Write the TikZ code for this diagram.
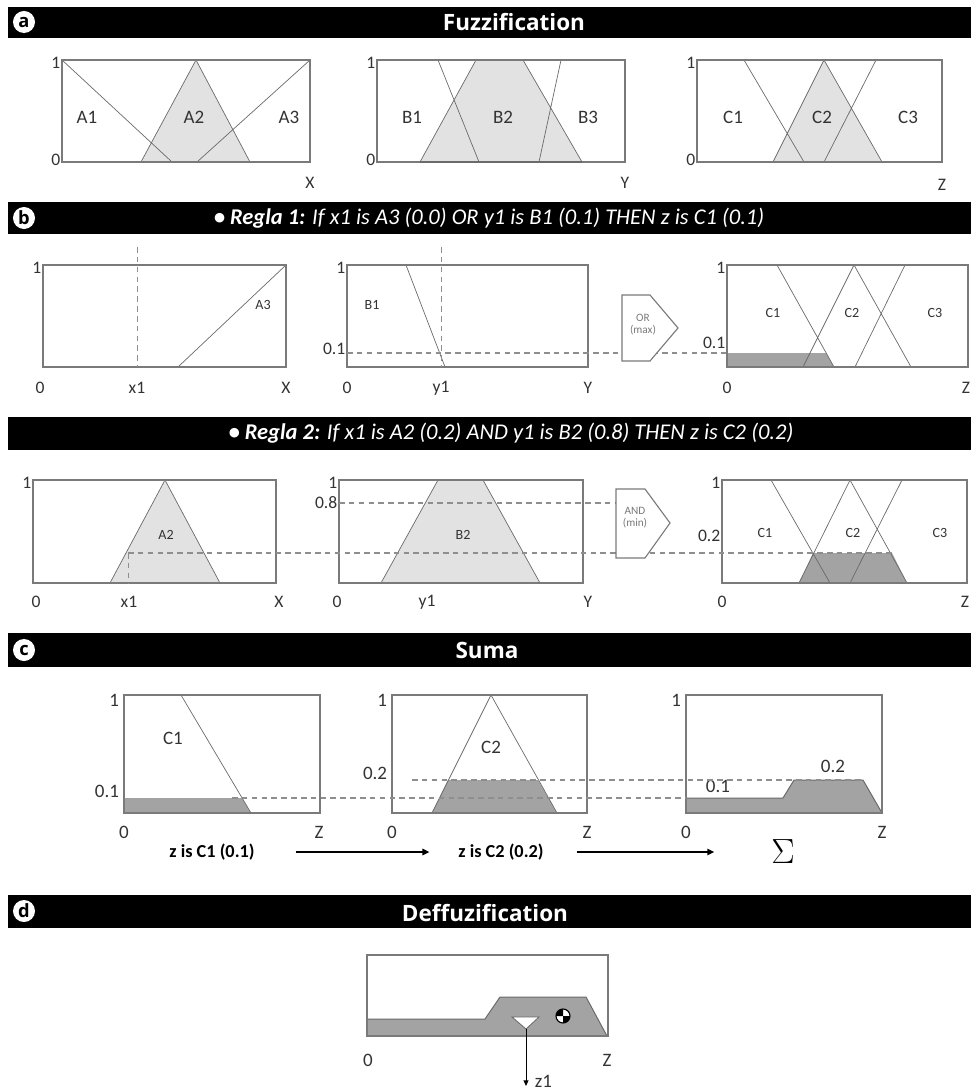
\documentclass[tikz,border=0pt]{standalone}
\usepackage{fontspec}
\setmainfont{Carlito}
\newfontfamily\ttlfont{Open Sans}
\usepackage{xcolor}
\usepackage{tikz}
\usetikzlibrary{arrows.meta,positioning,calc}
\definecolor{bx}{HTML}{7A7A7A}
\definecolor{mf}{HTML}{6A6A6A}
\definecolor{lf}{HTML}{E2E2E2}
\definecolor{df}{HTML}{A3A3A3}
\definecolor{dl}{HTML}{8E8E8E}
\definecolor{lb}{HTML}{333333}
\newcommand{\Rg}[2]{\textbf{\textit{\textbullet\ Regla #1:}} \textit{#2}}

\begin{document}
\begin{tikzpicture}[x=0.025cm, y=-0.025cm,
  bar/.style={fill=black},
  ttl/.style={text=white, font=\ttlfont\bfseries\fontsize{16}{16}\selectfont},
  rgl/.style={text=white, font=\fontsize{16}{16}\selectfont},
  ltr/.style={circle, fill=white, inner sep=0pt, minimum size=0.55cm, font=\ttlfont\bfseries\fontsize{13}{13}\selectfont},
  box/.style={draw=bx, line width=0.9pt},
  mfl/.style={draw=mf, line width=0.5pt},
  lit/.style={fill=lf},
  drk/.style={fill=df},
  dsh/.style={draw=dl, line width=1pt, dash pattern=on 4pt off 3pt},
  axl/.style={text=lb, inner sep=1pt, font=\fontsize{12.5}{12.5}\selectfont},
  big/.style={text=lb, font=\fontsize{13.5}{13.5}\selectfont},
  sml/.style={text=lb, font=\fontsize{10}{10}\selectfont},
  gate/.style={draw=bx, fill=white, line width=0.8pt},
  arr/.style={-{Triangle[length=5pt,width=4.5pt]}, line width=1.4pt}]
  \useasboundingbox (0,0) rectangle (971,1090);

  % a: fuzzification
  \fill[bar] (8,7) rectangle (971,38);
  \node[ltr] (la) at (24,22) {a};
  \node[ttl] (ta) at (514,22) {Fuzzification};

  \fill[lit] (141,162) -- (196,60) -- (250,162) -- cycle;
  \draw[mfl] (62,60) -- (172,162) (141,162) -- (196,60) -- (250,162) (197,162) -- (310,60);
  \draw[box] (62,60) rectangle (310,162);
  \node[axl, anchor=east] (xa1) at (62,63) {1};
  \node[axl, anchor=east] (xa0) at (62,160) {0};
  \node[axl] (xaX) at (310,183) {X};
  \node[big] (na1) at (87,117) {A1};
  \node[big] (na2) at (194,117) {A2};
  \node[big] (na3) at (289,117) {A3};

  \fill[lit] (420,162) -- (476,60) -- (523,60) -- (582,162) -- cycle;
  \draw[mfl] (438,60) -- (479,162) (420,162) -- (476,60) -- (523,60) -- (582,162) (539,162) -- (561,60);
  \draw[box] (377,60) rectangle (625,162);
  \draw[mf, line width=1.4pt] (420,162) -- (582,162);
  \node[axl, anchor=east] (ya1) at (377,63) {1};
  \node[axl, anchor=east] (ya0) at (377,160) {0};
  \node[axl] (yaY) at (625,183) {Y};
  \node[big] (nb1) at (412,117) {B1};
  \node[big] (nb2) at (503,117) {B2};
  \node[big] (nb3) at (588,117) {B3};

  \fill[lit] (773,162) -- (824,60) -- (882,162) -- cycle;
  \draw[mfl] (744,60) -- (804,162) (773,162) -- (824,60) -- (882,162) (824,162) -- (876,60);
  \draw[box] (697,60) rectangle (942,162);
  \node[axl, anchor=east] (za1) at (697,63) {1};
  \node[axl, anchor=east] (za0) at (697,160) {0};
  \node[axl] (zaZ) at (942,185) {Z};
  \node[big] (nc1) at (733,117) {C1};
  \node[big] (nc2) at (822,117) {C2};
  \node[big] (nc3) at (908,117) {C3};

  % b: rule 1
  \fill[bar] (8,202) rectangle (971,234);
  \node[ltr] (lb) at (24,218) {b};
  \node[rgl] (tb) at (489,218) {\Rg{1}{If x1 is A3 (0.0) OR y1 is B1 (0.1) THEN z is C1 (0.1)}};

  \draw[mfl] (178,367) -- (286,265);
  \draw[box] (43,265) rectangle (286,367);
  \coordinate (x1t) at (137,247);
  \coordinate (x1b) at (137,367);
  \draw[dsh, line width=0.6pt] (x1t) -- (x1b);
  \node[sml] (ra3) at (263,305) {A3};
  \node[axl, anchor=east] (rx1) at (43,268) {1};
  \node[axl] (rx0) at (40,388) {0};
  \node[axl] (rxx) at (137,388) {x1};
  \node[axl] (rxX) at (286,388) {X};

  \draw[mfl] (406,265) -- (445,367);
  \draw[box] (347,265) rectangle (588,367);
  \coordinate (y1t) at (441,247);
  \coordinate (y1b) at (441,367);
  \draw[dsh, line width=0.6pt] (y1t) -- (y1b);
  \node[sml] (rb1) at (372,305) {B1};
  \node[axl, anchor=east] (ry1) at (347,268) {1};
  \node[axl, anchor=east] (ry01) at (347,349) {0.1};
  \node[axl] (ry0) at (347,388) {0};
  \node[axl] (ryy) at (441,388) {y1};
  \node[axl] (ryY) at (588,388) {Y};

  \coordinate (or0) at (347,353);
  \coordinate (or1) at (727,353);
  \draw[dsh] (or0) -- (or1);
  \draw[gate] (622,295) -- (650,295) -- (678,328) -- (650,361) -- (622,361) -- cycle;
  \node[sml, font=\fontsize{8}{8.5}\selectfont, align=center, text=bx] (gor) at (643,325) {OR\\(max)};

  \fill[drk] (727,367) -- (727,353) -- (826,353) -- (834,367) -- cycle;
  \draw[mfl] (777,265) -- (834,367) (803,367) -- (854,265) -- (911,367) (855,367) -- (905,265);
  \draw[box] (727,265) rectangle (968,367);
  \node[sml] (rc1) at (773,313) {C1};
  \node[sml] (rc2) at (852,313) {C2};
  \node[sml] (rc3) at (935,313) {C3};
  \node[axl, anchor=east] (rz1) at (727,268) {1};
  \node[axl, anchor=east] (rz01) at (727,343) {0.1};
  \node[axl] (rz0) at (727,388) {0};
  \node[axl] (rzZ) at (966,388) {Z};

  % b: rule 2
  \fill[bar] (8,417) rectangle (971,450);
  \node[rgl] (tr2) at (511,433) {\Rg{2}{If x1 is A2 (0.2) AND y1 is B2 (0.8) THEN z is C2 (0.2)}};

  \fill[lit] (110,583) -- (165,480) -- (220,583) -- cycle;
  \draw[mfl] (110,583) -- (165,480) -- (220,583);
  \draw[box] (33,480) rectangle (276,583);
  \node[sml] (sa2) at (166,535) {A2};
  \node[axl, anchor=east] (sx1) at (33,483) {1};
  \node[axl] (sx0) at (36,602) {0};
  \node[axl] (sxx) at (129,602) {x1};
  \node[axl] (sxX) at (279,602) {X};

  \fill[lit] (381,583) -- (438,480) -- (483,480) -- (540,583) -- cycle;
  \draw[mfl] (381,583) -- (438,480) -- (483,480) -- (540,583);
  \draw[box] (339,480) rectangle (583,583);
  \node[sml] (sb2) at (463,535) {B2};
  \node[axl, anchor=east] (sy1) at (339,483) {1};
  \node[axl, anchor=east] (sy08) at (339,503) {0.8};
  \node[axl] (sy0) at (337,602) {0};
  \node[axl] (syy) at (427,602) {y1};
  \node[axl] (syY) at (588,602) {Y};

  \fill[drk] (799,583) -- (813,553) -- (892,553) -- (907,583) -- cycle;
  \draw[mfl] (771,480) -- (830,583) (799,583) -- (850,480) -- (907,583) (850,583) -- (902,480);
  \draw[box] (722,480) rectangle (967,583);
  \node[sml] (sc1) at (765,533) {C1};
  \node[sml] (sc2) at (853,533) {C2};
  \node[sml] (sc3) at (940,533) {C3};
  \node[axl, anchor=east] (sz1) at (722,483) {1};
  \node[axl, anchor=east] (sz02) at (722,536) {0.2};
  \node[axl] (sz0) at (722,602) {0};
  \node[axl] (szZ) at (965,602) {Z};

  \coordinate (x2b) at (128,583);
  \coordinate (an0) at (128,553);
  \coordinate (an1) at (892,553);
  \coordinate (an2) at (339,503);
  \coordinate (an3) at (616,503);
  \draw[dsh, line width=0.6pt] (an0) -- (x2b);
  \draw[dsh] (an0) -- (an1);
  \draw[dsh] (an2) -- (an3);
  \draw[gate] (616,489) -- (645,489) -- (670,523) -- (645,558) -- (616,558) -- cycle;
  \node[sml, font=\fontsize{8}{8.5}\selectfont, align=center, text=bx] (gand) at (635,518) {AND\\(min)};

  % c: suma
  \fill[bar] (8,633) rectangle (971,667);
  \node[ltr] (lc) at (24,650) {c};
  \node[ttl] (tc) at (487,650) {Suma};

  \fill[drk] (124,813) -- (124,798) -- (242,798) -- (251,813) -- cycle;
  \draw[mfl] (181,695) -- (251,813);
  \draw[box] (124,695) rectangle (320,813);
  \node[big] (uc1) at (173,738) {C1};
  \node[big, anchor=east] (ux1) at (124,700) {1};
  \node[big, anchor=east] (ux01) at (124,791) {0.1};
  \node[big] (ux0) at (124,832) {0};
  \node[big] (uxZ) at (319,832) {Z};

  \fill[drk] (432,813) -- (448,780) -- (538,780) -- (557,813) -- cycle;
  \draw[mfl] (432,813) -- (491,695) -- (557,813);
  \draw[box] (392,695) rectangle (587,813);
  \node[big] (uc2) at (491,747) {C2};
  \node[big, anchor=east] (uy1) at (392,700) {1};
  \node[big, anchor=east] (uy02) at (392,773) {0.2};
  \node[big] (uy0) at (392,832) {0};
  \node[big] (uyZ) at (587,832) {Z};

  \fill[drk, draw=mf, line width=0.7pt] (686,813) -- (686,798) -- (783,798) -- (794,780) -- (863,780) -- (882,813) -- cycle;
  \draw[box] (686,695) rectangle (882,813);
  \node[big] (us01) at (718,786) {0.1};
  \node[big] (us02) at (833,766) {0.2};
  \node[big, anchor=east] (uz1) at (686,700) {1};
  \node[big] (uz0) at (686,832) {0};
  \node[big] (uzZ) at (882,832) {Z};

  \coordinate (su0) at (232,798);
  \coordinate (su1) at (686,798);
  \coordinate (su2) at (412,780);
  \coordinate (su3) at (863,780);
  \draw[dsh] (su0) -- (su1);
  \draw[dsh] (su2) -- (su3);

  \node[font=\bfseries\fontsize{13}{13}\selectfont] (zc1) at (212,852) {z is C1 (0.1)};
  \node[font=\bfseries\fontsize{13}{13}\selectfont] (zc2) at (501,852) {z is C2 (0.2)};
  \node[font=\fontsize{26}{26}\selectfont] (zs) at (783,852) {$\Sigma$};
  \draw[arr, shorten <=0.9cm, shorten >=0.6cm] (zc1) -- (zc2);
  \draw[arr, shorten <=0.7cm, shorten >=1.3cm] (zc2) -- (zs);

  % d: defuzzification
  \fill[bar] (8,895) rectangle (971,928);
  \node[ltr] (ld) at (24,911) {d};
  \node[ttl] (td) at (485,913) {Deffuzification};

  \fill[drk, draw=mf, line width=0.7pt] (367,1036) -- (367,1019) -- (485,1019) -- (500,997) -- (586,997) -- (607,1036) -- cycle;
  \draw[box] (367,955) rectangle (608,1036);
  \draw[fill=white, draw=mf, line width=0.6pt] (512,1017) -- (539,1017) -- (526,1029) -- cycle;
  \coordinate (zcg) at (526,1029);
  \coordinate (zend) at (526,1086);
  \draw[-{Triangle[length=4pt,width=3.5pt]}, line width=0.6pt] (zcg) -- (zend);
  \node[big, anchor=west] (zz1) at (530,1081) {z1};
  \node[big] (dz0) at (368,1060) {0};
  \node[big] (dzZ) at (607,1060) {Z};

  \coordinate (cog) at (563,1016);
  \fill[white] (cog) circle (7);
  \fill[black] (cog) -- ++(7,0) arc (0:90:7) -- cycle;
  \fill[black] (cog) -- ++(-7,0) arc (180:270:7) -- cycle;
  \draw[black, line width=0.8pt] (cog) circle (7);
\end{tikzpicture}
\end{document}
